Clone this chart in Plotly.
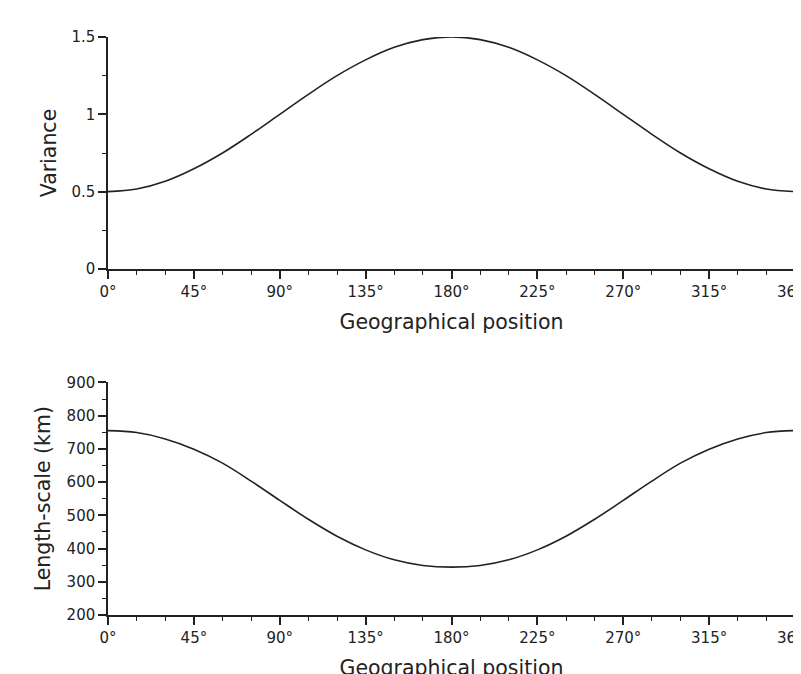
import plotly.graph_objects as go
from plotly.subplots import make_subplots

positions = [0, 15, 30, 45, 60, 75, 90, 105, 120, 135, 150, 165, 180,
             195, 210, 225, 240, 255, 270, 285, 300, 315, 330, 345, 360]
variance = [0.5, 0.517, 0.567, 0.648, 0.75, 0.871, 1.0, 1.129, 1.25, 1.352, 1.433, 1.483, 1.5,
            1.483, 1.433, 1.352, 1.25, 1.129, 1.0, 0.871, 0.75, 0.648, 0.567, 0.517, 0.5]
length_scale = [755, 749, 730, 699, 657, 603, 545, 488, 437, 396, 366, 349, 344,
                349, 366, 396, 437, 488, 545, 603, 657, 699, 730, 749, 755]
x_tick_vals = [0, 45, 90, 135, 180, 225, 270, 315, 360]
x_tick_text = ["0°", "45°", "90°", "135°", "180°", "225°", "270°", "315°", "360°"]

FONT = "DejaVu Sans"
INK = "#222222"
TICK_SIZE = 15
TITLE_SIZE = 20.5

fig = make_subplots(rows=2, cols=1, vertical_spacing=0.0)

fig.add_trace(go.Scatter(x=positions, y=variance, mode="lines",
                         line=dict(color=INK, width=1.6, shape="spline", smoothing=1.0),
                         showlegend=False), row=1, col=1)
fig.add_trace(go.Scatter(x=positions, y=length_scale, mode="lines",
                         line=dict(color=INK, width=1.6, shape="spline", smoothing=1.0),
                         showlegend=False), row=2, col=1)

xcommon = dict(range=[0, 360], tickvals=x_tick_vals, ticktext=x_tick_text,
               ticklabeloverflow="allow",
               showgrid=False, zeroline=False, showline=True, linecolor=INK, linewidth=1.5,
               ticks="outside", ticklen=8, tickwidth=1.5, tickcolor=INK,
               tickfont=dict(family=FONT, size=TICK_SIZE, color=INK),
               minor=dict(dtick=15, tick0=0, ticks="outside", ticklen=4, tickwidth=1.2, tickcolor=INK),
               title=dict(text="Geographical position", font=dict(family=FONT, size=TITLE_SIZE, color=INK),
                          standoff=15))
fig.update_xaxes(**xcommon, row=1, col=1)
fig.update_xaxes(**xcommon, row=2, col=1)

ycommon = dict(showgrid=False, zeroline=False, showline=True, linecolor=INK, linewidth=1.5,
               ticks="outside", ticklen=8, tickwidth=1.5, tickcolor=INK,
               ticklabeloverflow="allow",
               tickfont=dict(family=FONT, size=TICK_SIZE, color=INK))
fig.update_yaxes(**ycommon, range=[0, 1.5], tickvals=[0, 0.5, 1, 1.5],
                 ticktext=["0", "0.5", "1", "1.5"],
                 minor=dict(dtick=0.25, tick0=0, ticks="outside", ticklen=4, tickwidth=1.2, tickcolor=INK),
                 title=dict(text="Variance", font=dict(family=FONT, size=TITLE_SIZE, color=INK), standoff=9),
                 row=1, col=1)
fig.update_yaxes(**ycommon, range=[200, 900], dtick=100,
                 minor=dict(dtick=50, tick0=0, ticks="outside", ticklen=4, tickwidth=1.2, tickcolor=INK),
                 title=dict(text="Length-scale (km)", font=dict(family=FONT, size=TITLE_SIZE, color=INK), standoff=10),
                 row=2, col=1)

fig.update_layout(
    width=801, height=674,
    margin=dict(l=100, r=14, t=29, b=67, autoexpand=False),
    paper_bgcolor="white", plot_bgcolor="white",
    font=dict(family=FONT, color=INK),
)
fig.layout.yaxis.domain = [0.5986, 1.0]
fig.layout.yaxis2.domain = [0.0, 0.4024]

fig.write_html("out.html")
